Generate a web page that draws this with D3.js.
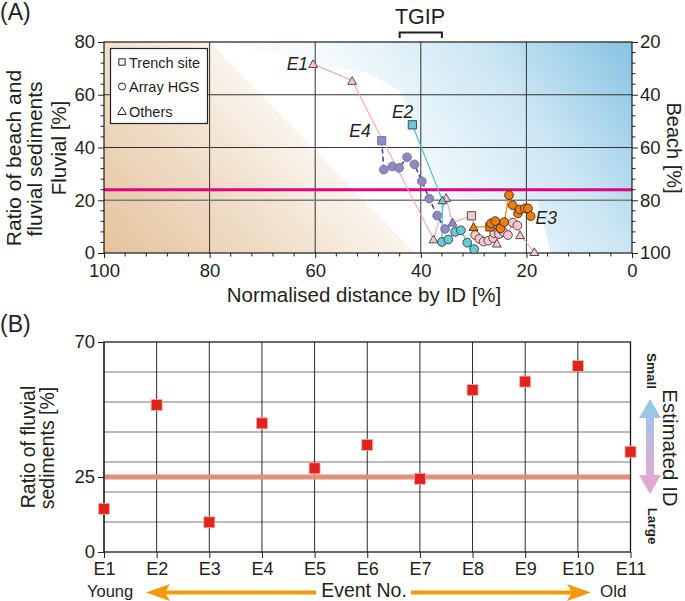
<!DOCTYPE html>
<html><head><meta charset="utf-8">
<script src="https://cdn.jsdelivr.net/npm/d3@7"></script>
<style>
html,body{margin:0;padding:0;background:#fff;}
svg{display:block;font-family:"Liberation Sans",Arial,Helvetica,sans-serif;}
</style></head>
<body><svg id="c" width="685" height="601"></svg>
<script>
// ---------- Panel A data ----------
const distTicks = [100, 80, 60, 40, 20, 0];
const fluvialTicks = [0, 20, 40, 60, 80];
const beachTicks = [100, 80, 60, 40, 20];
const fluvialGrid = [20, 40, 60];
const distGrid = [80, 60, 40, 20];
const thresholdA = 24;
// background zones (distance %, fluvial %)
const beigeDist = [100, 80, 41, 100];
const beigeFluv = [80, 80, 0, 0];
const blueDist = [78.6, 49.6, 44, 35.8, 18, 15.3, 0, 0];
const blueFluv = [80, 67.9, 61.5, 21, 20, 0, 0, 80];
// E1 (pink): t = others, s = trench, c = array HGS
const e1Dist = [60.4, 53.0, 37.6, 35.2, 34.0, 30.4, 29.7, 28.9, 28.1, 27.2, 26.3, 25.6, 26.1, 25.2, 25.0, 24.3, 23.5, 22.6, 21.7, 21.2, 18.5];
const e1Fluv = [71.7, 65.3, 5.2, 20.9, 11.6, 14.1, 6.8, 5.3, 4.3, 4.7, 5.7, 3.6, 7.5, 7.2, 9.4, 7.9, 6.8, 11.5, 10.4, 6.8, 0.4];
const e1Type = ["t","t","t","t","t","s","c","c","c","c","c","t","c","c","c","c","c","c","c","t","t"];
// E2 (cyan)
const e2Dist = [41.6, 35.9, 36.0, 34.8, 33.5, 32.4, 31.2, 29.9];
const e2Fluv = [48.6, 20.0, 4.2, 5.1, 8.0, 8.6, 3.9, 1.5];
const e2Type = ["s","t","c","c","c","c","c","c"];
// E3 (orange)
const e3Dist = [30.0, 26.9, 26.7, 25.9, 24.9, 24.2, 23.3, 22.6, 21.6, 21.3, 20.3, 19.7, 19.2];
const e3Fluv = [9.9, 9.9, 11.2, 12.1, 9.3, 11.7, 21.9, 18.1, 15.0, 16.5, 16.9, 16.9, 14.0];
const e3Type = ["t","s","c","c","c","c","c","c","c","c","c","c","c"];
// E4 (purple)
const e4Dist = [47.4, 47.0, 45.4, 44.1, 42.6, 41.2, 39.8, 38.4, 36.9, 35.4, 34.0];
const e4Fluv = [42.6, 31.6, 32.8, 32.3, 36.3, 33.6, 27.2, 20.6, 14.2, 9.1, 11.6];
const e4Type = ["s","c","c","c","c","c","c","c","c","c","t"];
const legendLabels = ["Trench site", "Array HGS", "Others"];
const legendTypes = ["s", "c", "t"];

// ---------- Panel B data ----------
const events = ["E1","E2","E3","E4","E5","E6","E7","E8","E9","E10","E11"];
const ratios = [14.4, 49.0, 9.9, 42.9, 27.9, 35.7, 24.4, 54.0, 56.8, 62.0, 33.4];
const ratioTicks = [0, 25, 70];
const ratioGrid = [10, 20, 30, 40, 50, 60];
const thresholdB = 25;

const svg = d3.select("#c");
const defs = svg.append("defs");
const ink = "#231f20";

// ================= PANEL A =================
const xA = d3.scaleLinear().domain([100, 0]).range([104, 632]);
const yA = d3.scaleLinear().domain([0, 80]).range([253, 42]);
const yBeach = d3.scaleLinear().domain([100, 20]).range([253, 42]);

const gB = defs.append("linearGradient").attr("id","beige").attr("gradientUnits","userSpaceOnUse")
  .attr("x1",xA(100)).attr("y1",yA(0)).attr("x2",xA(57)).attr("y2",yA(80));
gB.append("stop").attr("offset",0).attr("stop-color","#e4c39c");
gB.append("stop").attr("offset",0.45).attr("stop-color","#f1e0cc");
gB.append("stop").attr("offset",0.75).attr("stop-color","#fbf6f0");
gB.append("stop").attr("offset",1).attr("stop-color","#ffffff");
const gBl = defs.append("linearGradient").attr("id","blue").attr("gradientUnits","userSpaceOnUse")
  .attr("x1",xA(0)).attr("y1",yA(80)).attr("x2",xA(57)).attr("y2",yA(0));
gBl.append("stop").attr("offset",0).attr("stop-color","#86c3e3");
gBl.append("stop").attr("offset",0.35).attr("stop-color","#cde7f4");
gBl.append("stop").attr("offset",0.7).attr("stop-color","#f4fafd");
gBl.append("stop").attr("offset",1).attr("stop-color","#ffffff");

defs.append("clipPath").attr("id","clipA").append("rect")
  .attr("x", xA(100)).attr("y", yA(80)).attr("width", xA(0)-xA(100)).attr("height", yA(0)-yA(80));

const bg = svg.append("g").attr("clip-path","url(#clipA)");
const polyLine = (ds, fs) => ds.map((d,i)=>[xA(d), yA(fs[i])].join(",")).join(" ");
bg.append("polygon").attr("points", polyLine(beigeDist, beigeFluv)).attr("fill","url(#beige)");
bg.append("polygon").attr("points", polyLine(blueDist, blueFluv)).attr("fill","url(#blue)");

// grid
const gridA = svg.append("g");
distGrid.forEach(d => gridA.append("line").attr("x1",xA(d)).attr("x2",xA(d)).attr("y1",yA(0)).attr("y2",yA(80))
  .attr("stroke","#333").attr("stroke-width",1));
fluvialGrid.forEach(f => gridA.append("line").attr("x1",xA(100)).attr("x2",xA(0)).attr("y1",yA(f)).attr("y2",yA(f))
  .attr("stroke", f===20 ? "#7a7a7a" : "#333").attr("stroke-width", f===20 ? 1.5 : 1));
// threshold
svg.append("line").attr("x1",xA(100)).attr("x2",xA(0)).attr("y1",yA(thresholdA)).attr("y2",yA(thresholdA))
  .attr("stroke","#e4007f").attr("stroke-width",3);

// axes
const axL = d3.axisLeft(yA).tickValues(fluvialTicks).tickSize(6).tickPadding(3).tickFormat(d3.format("d"));
const axR = d3.axisRight(yBeach).tickValues(beachTicks).tickSize(6).tickPadding(2).tickFormat(d3.format("d"));
const axBt = d3.axisBottom(xA).tickValues(distTicks).tickSize(5).tickPadding(6).tickFormat(d3.format("d"));
const minorF = d3.range(0, 81, 4).filter(v => v % 20 !== 0);
const minorD = d3.range(0, 101, 4).filter(v => v % 20 !== 0);

function styleAxis(g, fs){
  g.select(".domain").remove();
  g.selectAll("line").attr("stroke","#222");
  g.selectAll("text").attr("fill",ink).style("font-size", fs+"px").style("font-family","'Liberation Sans',Arial,sans-serif");
}
const gl = svg.append("g").attr("transform",`translate(${xA(100)},0)`).call(axL); styleAxis(gl,18.5);
gl.selectAll(".minor").data(minorF).enter().append("line").attr("x1",-3.5).attr("x2",0).attr("y1",d=>yA(d)).attr("y2",d=>yA(d)).attr("stroke","#222");
const gr = svg.append("g").attr("transform",`translate(${xA(0)},0)`).call(axR); styleAxis(gr,18.5);
gr.selectAll(".minor").data(minorF).enter().append("line").attr("x1",0).attr("x2",3.5).attr("y1",d=>yA(d)).attr("y2",d=>yA(d)).attr("stroke","#222");
const gbt = svg.append("g").attr("transform",`translate(0,${yA(0)})`).call(axBt); styleAxis(gbt,18.5);
gbt.selectAll(".minor").data(minorD).enter().append("line").attr("y1",0).attr("y2",3.5).attr("x1",d=>xA(d)).attr("x2",d=>xA(d)).attr("stroke","#222");
// frame
svg.append("rect").attr("x",xA(100)).attr("y",yA(80)).attr("width",xA(0)-xA(100)).attr("height",yA(0)-yA(80))
  .attr("fill","none").attr("stroke","#1a1a1a").attr("stroke-width",1.2);

// symbols
const symType = {c: d3.symbolCircle, s: d3.symbolSquare, t: d3.symbolTriangle};
const symSize = {c: 60, s: 68, t: 34};
function drawSeries(ds, fs, ts, opt){
  const g = svg.append("g");
  const line = d3.line().x(d=>xA(d[0])).y(d=>yA(d[1]));
  const pts = ds.map((d,i)=>[d, fs[i], ts[i]]);
  g.append("path").attr("d", line(pts)).attr("fill","none").attr("stroke",opt.line)
    .attr("stroke-width",opt.lw).attr("stroke-dasharray",opt.dash||null);
  g.selectAll("path.m").data(pts).enter().append("path").attr("class","m")
    .attr("transform", d=>`translate(${xA(d[0])},${yA(d[1]) + (d[2]==="t"?1:0)})`)
    .attr("d", d=>d3.symbol().type(symType[d[2]]).size(symSize[d[2]])())
    .attr("fill", opt.fill).attr("stroke", opt.stroke).attr("stroke-width", opt.sw);
}
drawSeries(e1Dist, e1Fluv, e1Type, {line:"#f4aab6", lw:1.2, fill:"#f8c6cb", stroke:"#3d3d3d", sw:0.9});
drawSeries(e2Dist, e2Fluv, e2Type, {line:"#4fc2da", lw:1.3, fill:"#6ccad7", stroke:"#2f3a3c", sw:0.9});
drawSeries(e3Dist, e3Fluv, e3Type, {line:"#f08a2a", lw:1.4, fill:"#ef7d0e", stroke:"#3a2a1a", sw:0.9});
drawSeries(e4Dist, e4Fluv, e4Type, {line:"#4a45a0", lw:1.6, dash:"5,3", fill:"#8e89c0", stroke:"#75709f", sw:0.9});

// event labels
const lab = (t,x,y,anchor) => svg.append("text").attr("x",x).attr("y",y).attr("text-anchor",anchor)
  .style("font-style","italic").style("font-size","17.5px").attr("fill",ink).text(t);
lab("E1", xA(e1Dist[0])-5, yA(e1Fluv[0])+6, "end");
lab("E2", xA(e2Dist[0])+1, yA(e2Fluv[0])-7, "end");
lab("E4", xA(e4Dist[0])-11, yA(e4Fluv[0])-4, "end");
lab("E3", xA(e3Dist[e3Dist.length-1])+5, yA(e3Fluv[e3Fluv.length-1])+8, "start");

// legend
const lg = svg.append("g");
lg.append("rect").attr("x",110.5).attr("y",48.5).attr("width",97).attr("height",75).attr("fill","#fff").attr("stroke","#222").attr("stroke-width",1.2);
legendLabels.forEach((t,i)=>{
  const y = 62 + i*24.5;
  lg.append("path").attr("transform",`translate(122,${y + (legendTypes[i]==="t"?1:0)})`)
    .attr("d", d3.symbol().type(symType[legendTypes[i]]).size(legendTypes[i]==="t"?32:40)())
    .attr("fill","#fff").attr("stroke","#222").attr("stroke-width",1);
  lg.append("text").attr("x",129).attr("y",y+5.5).style("font-size","14.5px").attr("fill",ink).text(t);
});

// titles
svg.append("text").attr("x",0).attr("y",20).style("font-size","23px").attr("fill",ink).text("(A)");
svg.append("text").attr("x",420).attr("y",24).attr("text-anchor","middle").style("font-size","21.5px").attr("fill",ink).text("TGIP");
svg.append("path").attr("d",`M${xA(44)},38 V32.5 H${xA(36)} V38`).attr("fill","none").attr("stroke",ink).attr("stroke-width",2);
const vtext = (t,x,y,rot,fs) => svg.append("text").attr("transform",`translate(${x},${y}) rotate(${rot})`).attr("text-anchor","middle")
   .style("font-size",fs+"px").attr("fill",ink).text(t);
vtext("Ratio of beach and", 21, 158, -90, 21);
vtext("fluvial sediments", 42, 159, -90, 21);
vtext("Fluvial [%]", 66, 148, -90, 20.5);
vtext("Beach [%]", 667, 148, 90, 20);
svg.append("text").attr("x",364).attr("y",302).attr("text-anchor","middle").style("font-size","20.5px").attr("fill",ink).text("Normalised distance by ID [%]");

// ================= PANEL B =================
const xB = d3.scalePoint().domain(events).range([104, 630.5]);
const yB = d3.scaleLinear().domain([0, 70]).range([552, 342]);
const gridB = svg.append("g");
ratioGrid.forEach(v => gridB.append("line").attr("x1",xB("E1")).attr("x2",xB("E11")).attr("y1",yB(v)).attr("y2",yB(v))
  .attr("stroke","#777").attr("stroke-width",1.2));
events.forEach(e => gridB.append("line").attr("x1",xB(e)).attr("x2",xB(e)).attr("y1",yB(0)).attr("y2",yB(70))
  .attr("stroke","#2a2a2a").attr("stroke-width",1));
svg.append("line").attr("x1",xB("E1")).attr("x2",xB("E11")).attr("y1",yB(thresholdB)).attr("y2",yB(thresholdB))
  .attr("stroke","#e2907a").attr("stroke-width",5);
svg.append("rect").attr("x",xB("E1")).attr("y",yB(70)).attr("width",xB("E11")-xB("E1")).attr("height",yB(0)-yB(70))
  .attr("fill","none").attr("stroke","#1a1a1a").attr("stroke-width",1.3);
const ayB = svg.append("g").attr("transform",`translate(${xB("E1")},0)`).call(d3.axisLeft(yB).tickValues(ratioTicks).tickSize(6).tickPadding(3));
styleAxis(ayB,18.5);
const axB = svg.append("g").attr("transform",`translate(0,${yB(0)})`).call(d3.axisBottom(xB).tickSize(6).tickPadding(4));
styleAxis(axB,18);
svg.append("g").selectAll("rect").data(ratios).enter().append("rect")
  .attr("x",(d,i)=>xB(events[i])-5.5).attr("y",d=>yB(d)-5.5).attr("width",11).attr("height",11)
  .attr("fill","#e0231c").attr("stroke","#f4b0a8").attr("stroke-width",0.8);

svg.append("text").attr("x",0).attr("y",332).style("font-size","23px").attr("fill",ink).text("(B)");
vtext("Ratio of fluvial", 35, 447, -90, 19.5);
vtext("sediments [%]", 54, 448, -90, 19.5);

// Young / Old arrows
const orange = "#f39a0b";
svg.append("text").attr("x",87).attr("y",597).style("font-size","16.5px").attr("fill",ink).text("Young");
svg.append("text").attr("x",364).attr("y",597).attr("text-anchor","middle").style("font-size","19.5px").attr("fill",ink).text("Event No.");
svg.append("text").attr("x",600).attr("y",597).style("font-size","17px").attr("fill",ink).text("Old");
svg.append("line").attr("x1",316).attr("x2",164).attr("y1",592.5).attr("y2",592.5).attr("stroke",orange).attr("stroke-width",4);
svg.append("path").attr("d","M146,592.5 L170,584 L165,592.5 L170,601 Z").attr("fill",orange);
svg.append("line").attr("x1",411).attr("x2",573).attr("y1",592.5).attr("y2",592.5).attr("stroke",orange).attr("stroke-width",4);
svg.append("path").attr("d","M591,592.5 L567,584 L572,592.5 L567,601 Z").attr("fill",orange);

// Estimated ID double arrow
const gA = defs.append("linearGradient").attr("id","idg").attr("x1",0).attr("y1",0).attr("x2",0).attr("y2",1);
gA.append("stop").attr("offset",0).attr("stop-color","#8dcbea");
gA.append("stop").attr("offset",0.5).attr("stop-color","#c4b6dc");
gA.append("stop").attr("offset",1).attr("stop-color","#eaa6cc");
svg.append("path").attr("d","M650,399 L661,418 L654,418 L654,475 L661,475 L650,494 L639,475 L646,475 L646,418 L639,418 Z")
  .attr("fill","url(#idg)");
vtext("Small", 647, 371, 90, 13.5).style("font-weight","bold");
vtext("Large", 648, 526, 90, 13.5).style("font-weight","bold");
vtext("Estimated ID", 663, 448, 90, 20.5);
</script></body></html>
